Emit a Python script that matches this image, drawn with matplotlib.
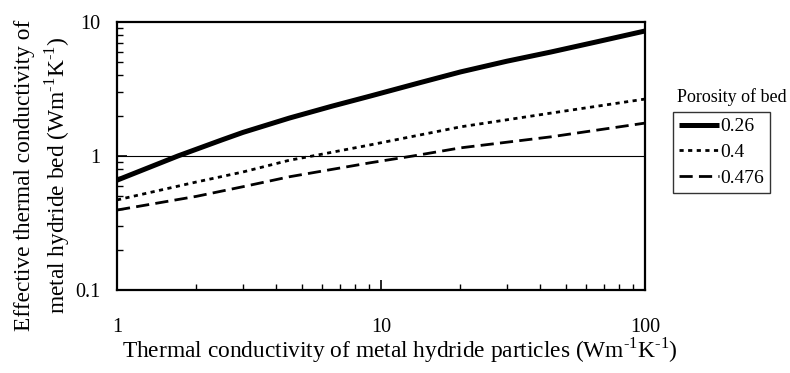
import matplotlib
matplotlib.use("Agg")
import matplotlib.pyplot as plt
from matplotlib.ticker import LogLocator, NullFormatter, FixedFormatter, FixedLocator

plt.rcParams["font.family"] = ["Liberation Serif", "DejaVu Serif"]
plt.rcParams["mathtext.fontset"] = "custom"
plt.rcParams["mathtext.rm"] = "Liberation Serif"
plt.rcParams["lines.scale_dashes"] = False

# particle conductivity (x) and effective bed conductivity (y) per porosity
x_026 = [1, 1.7, 2.5, 3, 4.5, 6.5, 9.1, 14, 20, 30, 44, 65, 100]
y_026 = [0.66, 1.0, 1.32, 1.5, 1.92, 2.35, 2.8, 3.52, 4.24, 5.1, 5.97, 7.08, 8.57]

x_040 = [1, 2, 3, 4.5, 5.5, 9.1, 20, 44, 100]
y_040 = [0.47, 0.64, 0.76, 0.93, 1.0, 1.21, 1.65, 2.09, 2.66]

x_0476 = [1, 2, 3, 4.5, 9.1, 13.2, 20, 44, 100]
y_0476 = [0.395, 0.50, 0.59, 0.70, 0.89, 1.0, 1.15, 1.39, 1.76]

labels = ["0.26", "0.4", "0.476"]
y_ticks = [0.1, 1, 10]
x_ticks = [1, 10, 100]

UNIT = "(Wm$^{\\text{-1}}$K$^{\\text{-1}}$)"

fig = plt.figure(figsize=(7.9, 3.73), dpi=100)
ax = fig.add_axes([117 / 790, 1 - 290 / 373, 528 / 790, 268 / 373])

ax.axhline(1, color="black", linewidth=0.8, zorder=1)
l1, = ax.plot(x_026, y_026, color="black", linewidth=3.6, solid_capstyle="butt",
              solid_joinstyle="round")
l2, = ax.plot(x_040, y_040, color="black", linewidth=2.0, dashes=(3, 3.2))
l3, = ax.plot(x_0476, y_0476, color="black", linewidth=2.0, dashes=(9.5, 4.5))

ax.set_xscale("log")
ax.set_yscale("log")
ax.set_xlim(1, 100)
ax.set_ylim(0.1, 10)

ax.xaxis.set_major_locator(FixedLocator(x_ticks))
ax.xaxis.set_major_formatter(FixedFormatter([str(v) for v in x_ticks]))
ax.yaxis.set_major_locator(FixedLocator(y_ticks))
ax.yaxis.set_major_formatter(FixedFormatter(["0.1", "1", "10"]))
ax.xaxis.set_minor_locator(LogLocator(base=10, subs=range(2, 10)))
ax.yaxis.set_minor_locator(LogLocator(base=10, subs=range(2, 10)))
ax.xaxis.set_minor_formatter(NullFormatter())
ax.yaxis.set_minor_formatter(NullFormatter())

ax.tick_params(which="major", direction="in", length=7, width=1.2, labelsize=14.5)
ax.tick_params(which="minor", direction="in", length=4, width=1.0)
ax.tick_params(axis="x", which="major", pad=20)
ax.tick_params(axis="y", which="major", pad=12)

for sp in ax.spines.values():
    sp.set_linewidth(1.6)

fig.text(43 / 790, 1 - 175 / 373,
         "Effective thermal conductivity of\nmetal hydride bed " + UNIT,
         rotation=90, ha="center", va="center", multialignment="center",
         fontsize=16.8, linespacing=1.3)
fig.text(400 / 790, 1 - 350 / 373,
         "Thermal conductivity of metal hydride particles " + UNIT,
         ha="center", va="center", fontsize=16.8)

fig.text(677 / 790, 1 - 97 / 373, "Porosity of bed", ha="left", va="center", fontsize=13)
leg = fig.legend([l1, l2, l3], labels, loc="upper left",
                 bbox_to_anchor=(673 / 790, 1 - 112 / 373), bbox_transform=fig.transFigure,
                 borderaxespad=0, frameon=True, fancybox=False, fontsize=14,
                 handlelength=2.05, handletextpad=0.1, borderpad=0.3, labelspacing=0.42)
leg.get_frame().set_edgecolor("black")
leg.get_frame().set_linewidth(1.0)

fig.savefig("out.png", dpi=100)
